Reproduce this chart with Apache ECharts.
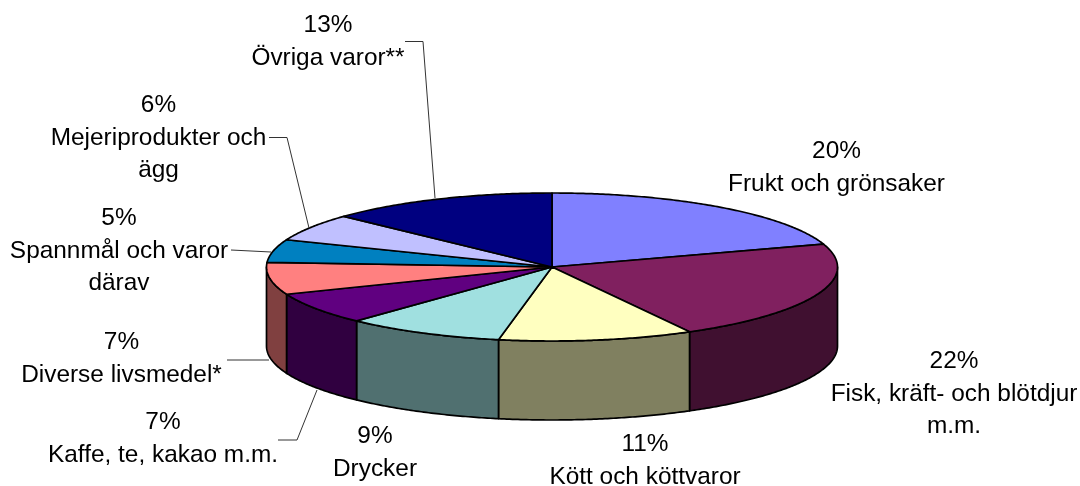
<!DOCTYPE html>
<html>
<head>
<meta charset="utf-8">
<style>
  html, body { margin: 0; padding: 0; background: #fff; }
  #chart { width: 1080px; height: 486px; }
</style>
<script src="https://cdn.jsdelivr.net/npm/echarts@6/dist/echarts.min.js"></script>
</head>
<body>
<div id="chart"></div>
<script>
// data
const categories = ['Frukt och grönsaker', 'Fisk, kräft- och blötdjur\nm.m.', 'Kött och köttvaror', 'Drycker',
  'Kaffe, te, kakao m.m.', 'Diverse livsmedel*', 'Spannmål och varor\ndärav', 'Mejeriprodukter och\nägg', 'Övriga varor**'];
const shares = [20, 22, 11, 9, 7, 7, 5, 6, 13];

// colours, top face and side wall
const topColors = ['#8080ff', '#80205f', '#ffffc0', '#a0e0e0', '#600080', '#ff8080', '#0080c0', '#c0c0ff', '#000080'];
const wallColors = ['#404080', '#401030', '#808060', '#507070', '#300040', '#804040', '#004060', '#606080', '#000040'];

// where the labels sit (centre of text block) and their leader lines
const labelPos = [[836.5, 168], [954, 394], [645, 461], [375, 453], [163, 439], [121.5, 359], [119, 251], [158.5, 138], [328, 42]];
const leaders = [null, null, null, null,
  [[278, 440], [297, 440], [317, 390]],
  [[227, 360], [269, 360]],
  [[231, 250], [271, 252]],
  [[269, 137.5], [287, 137.5], [309, 228]],
  [[405, 41.5], [423, 41.5], [435, 198]]];

const cx = 552, cy = 267, rx = 285.5, ry = 74, depth = 79;
const total = shares.reduce((a, b) => a + b, 0);

function pt(a, dy) {
  return [cx + rx * Math.sin(a), cy - ry * Math.cos(a) + (dy || 0)];
}

function arc(from, to, dy) {
  const pts = [];
  const n = Math.max(2, Math.ceil((to - from) / 0.01));
  for (let i = 0; i <= n; i++) pts.push(pt(from + (to - from) * i / n, dy));
  return pts;
}

function renderSlice(params, api) {
  const i = params.dataIndex;
  const before = shares.slice(0, i).reduce((a, b) => a + b, 0);
  const a0 = before / total * Math.PI * 2;
  const a1 = a0 + api.value(1) / total * Math.PI * 2;
  const lineStyle = { stroke: '#000', lineWidth: 1.7, lineJoin: 'round' };
  const children = [];

  // side wall, only the front half of the disc shows one
  const w0 = Math.max(a0, Math.PI / 2), w1 = Math.min(a1, Math.PI * 1.5);
  if (w1 > w0) {
    const wall = arc(w0, w1, 0).concat(arc(w0, w1, depth).reverse());
    children.push({ type: 'polygon', shape: { points: wall },
      style: Object.assign({ fill: wallColors[i] }, lineStyle) });
  }

  const top = [[cx, cy]].concat(arc(a0, a1, 0));
  children.push({ type: 'polygon', shape: { points: top },
    style: Object.assign({ fill: topColors[i] }, lineStyle) });
  return { type: 'group', children };
}

function renderLabel(params, api) {
  const i = params.dataIndex;
  const children = [];
  if (leaders[i]) {
    children.push({ type: 'polyline', shape: { points: leaders[i] },
      style: { stroke: '#333', lineWidth: 1, fill: null } });
  }
  children.push({ type: 'text', x: labelPos[i][0], y: labelPos[i][1], style: {
    text: api.value(1) + '%\n' + categories[i],
    fill: '#000',
    fontFamily: '"Liberation Sans", Arial, sans-serif',
    fontSize: 24.4,
    lineHeight: 32.5,
    align: 'center',
    verticalAlign: 'middle'
  } });
  return { type: 'group', children };
}

const seriesData = categories.map((name, i) => [i, shares[i]]);

const chart = echarts.init(document.getElementById('chart'), null, { renderer: 'canvas' });
chart.setOption({
  animation: false,
  backgroundColor: '#fff',
  series: [
    { type: 'custom', coordinateSystem: 'none', silent: true, data: seriesData, renderItem: renderSlice, z: 2 },
    { type: 'custom', coordinateSystem: 'none', silent: true, data: seriesData, renderItem: renderLabel, z: 3 }
  ]
});
</script>
</body>
</html>
